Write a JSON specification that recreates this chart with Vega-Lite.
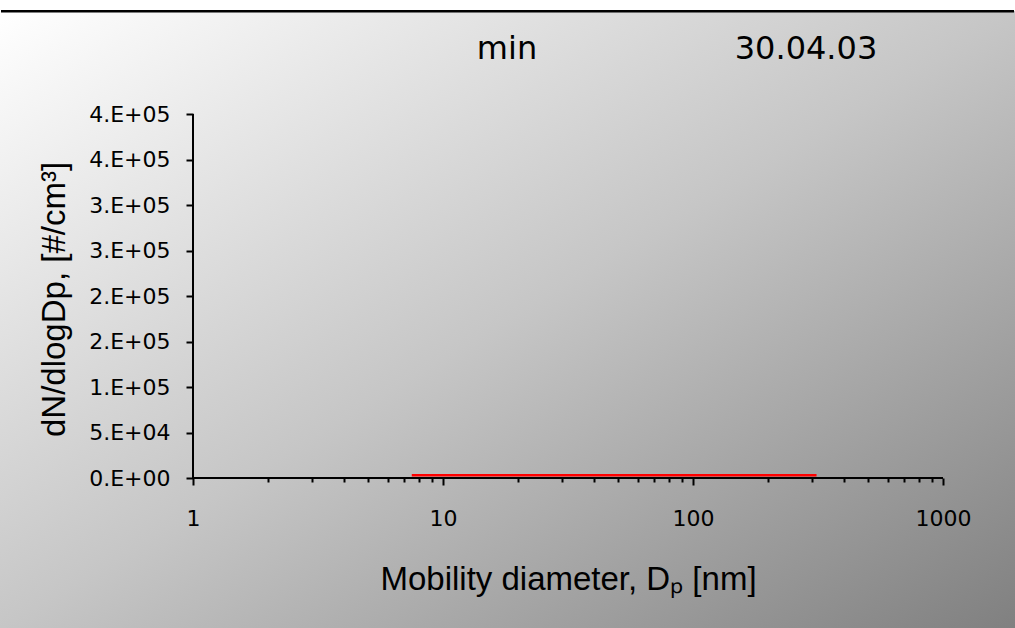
{
  "$schema": "https://vega.github.io/schema/vega-lite/v6.json",
  "width": 1015,
  "height": 617,
  "autosize": {"type": "none"},
  "padding": {"top": 11, "left": 0, "right": 0, "bottom": 0},
  "background": "white",
  "config": {
    "view": {
      "stroke": null,
      "fill": {
        "gradient": "linear",
        "x1": 0, "y1": 0, "x2": 1, "y2": 1,
        "stops": [
          {"offset": 0, "color": "#ffffff"},
          {"offset": 0.5, "color": "#c6c6c6"},
          {"offset": 1, "color": "#808080"}
        ]
      }
    },
    "text": {"font": "DejaVu Sans", "fontSize": 32, "color": "black", "baseline": "alphabetic", "align": "center"}
  },
  "layer": [
    {
      "data": {"values": [{}]},
      "mark": {"type": "rect", "color": "black", "strokeWidth": 0},
      "encoding": {
        "x": {"datum": 0.1706, "type": "quantitative"},
        "x2": {"datum": 1923.1},
        "y": {"datum": 514300, "type": "quantitative"},
        "y2": {"datum": 511500}
      }
    },
    {
      "data": {"values": [{}]},
      "mark": {"type": "text"},
      "encoding": {
        "x": {"datum": 18.03, "type": "quantitative"},
        "y": {"datum": 460440, "type": "quantitative"},
        "text": {"value": "min"}
      }
    },
    {
      "data": {"values": [{}]},
      "mark": {"type": "text"},
      "encoding": {
        "x": {"datum": 283.1, "type": "quantitative"},
        "y": {"datum": 460440, "type": "quantitative"},
        "text": {"value": "30.04.03"}
      }
    },
    {
      "data": {"values": [{}]},
      "mark": {"type": "rule", "color": "black", "strokeWidth": 2},
      "encoding": {
        "x": {"datum": 1, "type": "quantitative"},
        "y": {"datum": 0, "type": "quantitative"},
        "y2": {"datum": 400000}
      }
    },
    {
      "data": {"values": [{}]},
      "mark": {"type": "rule", "color": "black", "strokeWidth": 2},
      "encoding": {
        "x": {"datum": 1, "type": "quantitative"},
        "x2": {"datum": 1000},
        "y": {"datum": 0, "type": "quantitative"}
      }
    },
    {
      "data": {
        "values": [
          {"dp": 7.5, "n": 3000},
          {"dp": 8.5, "n": 3000},
          {"dp": 10, "n": 3000},
          {"dp": 12, "n": 3000},
          {"dp": 15, "n": 3000},
          {"dp": 20, "n": 3000},
          {"dp": 25, "n": 3000},
          {"dp": 30, "n": 3000},
          {"dp": 40, "n": 3000},
          {"dp": 50, "n": 3000},
          {"dp": 60, "n": 3000},
          {"dp": 80, "n": 3000},
          {"dp": 100, "n": 3000},
          {"dp": 120, "n": 3000},
          {"dp": 150, "n": 3000},
          {"dp": 200, "n": 3000},
          {"dp": 250, "n": 3000},
          {"dp": 312, "n": 3000}
        ]
      },
      "mark": {"type": "line", "color": "#ff0000", "strokeWidth": 2.7},
      "encoding": {
        "x": {
          "field": "dp",
          "type": "quantitative",
          "scale": {"type": "log", "domain": [0.16904, 1940.9], "nice": false},
          "axis": {
            "values": [1,2,3,4,5,6,7,8,9,10,20,30,40,50,60,70,80,90,100,200,300,400,500,600,700,800,900,1000],
            "offset": -150,
            "domain": false,
            "grid": false,
            "tickColor": "black",
            "tickWidth": 2,
            "tickSize": {"condition": {"test": "indexof([1,10,100,1000], datum.value) >= 0", "value": 7}, "value": 4},
            "format": "d",
            "labelExpr": "indexof([1,10,100,1000], datum.value) >= 0 ? datum.label : ''",
            "labelFont": "DejaVu Sans",
            "labelFontSize": 22,
            "labelColor": "black",
            "labelPadding": 23,
            "labelFlush": false,
            "labelOverlap": false,
            "labelBound": false,
            "title": "Mobility diameter, Dₚ [nm]",
            "titleFont": "Liberation Sans",
            "titleFontSize": 33,
            "titleFontWeight": "normal",
            "titleColor": "black",
            "titleX": 568,
            "titleY": 111,
            "titleBaseline": "alphabetic",
            "titleAlign": "center"
          }
        },
        "y": {
          "field": "n",
          "type": "quantitative",
          "scale": {"domain": [-164835, 513187], "nice": false, "zero": false},
          "axis": {
            "values": [0,50000,100000,150000,200000,250000,300000,350000,400000],
            "offset": -193,
            "domain": false,
            "grid": false,
            "tickColor": "black",
            "tickWidth": 2,
            "tickSize": 7,
            "labelExpr": "datum.value == 0 ? '0.E+00' : round(datum.value / pow(10, floor(log(datum.value) / LN10 + 0.000001))) + '.E+' + (floor(log(datum.value) / LN10 + 0.000001) < 10 ? '0' : '') + floor(log(datum.value) / LN10 + 0.000001)",
            "labelFont": "DejaVu Sans",
            "labelFontSize": 22,
            "labelColor": "black",
            "labelPadding": 16,
            "labelAlign": "right",
            "labelBaseline": "middle",
            "labelOverlap": false,
            "labelFlush": false,
            "labelBound": false,
            "title": "dN/dlogDp, [#/cm³]",
            "titleFont": "Liberation Sans",
            "titleFontSize": 33,
            "titleFontWeight": "normal",
            "titleColor": "black",
            "titleX": -129,
            "titleY": 288,
            "titleAngle": 270,
            "titleBaseline": "alphabetic",
            "titleAlign": "center"
          }
        }
      }
    }
  ]
}
